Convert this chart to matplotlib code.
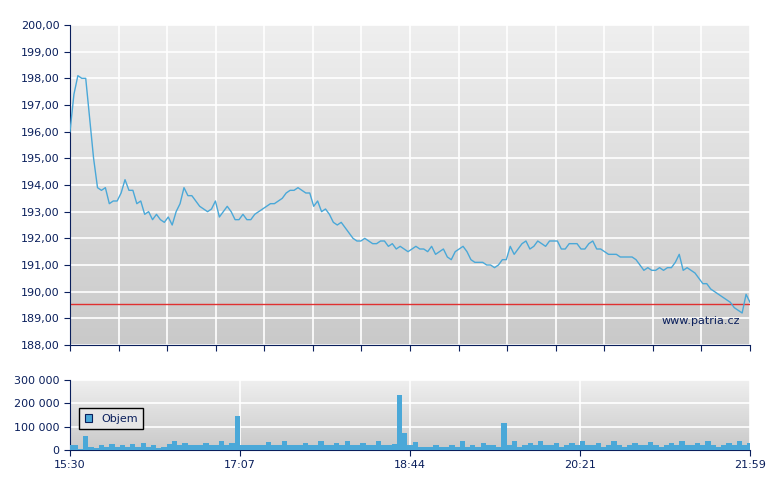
import numpy as np
import matplotlib
matplotlib.use("Agg")
import matplotlib.pyplot as plt
from matplotlib.ticker import FuncFormatter

price = [196.0,197.4,198.1,198.0,198.0,196.5,195.0,193.9,193.8,193.9,
 193.3,193.4,193.4,193.7,194.2,193.8,193.8,193.3,193.4,192.9,193.0,192.7,192.9,192.7,192.6,192.8,192.5,
 193.0,193.3,193.9,193.6,193.6,193.4,193.2,193.1,193.0,193.1,193.4,192.8,193.0,193.2,193.0,192.7,192.7,
 192.9,192.7,192.7,192.9,193.0,193.1,193.2,193.3,193.3,193.4,193.5,193.7,193.8,193.8,193.9,193.8,193.7,
 193.7,193.2,193.4,193.0,193.1,192.9,192.6,192.5,192.6,192.4,192.2,192.0,191.9,191.9,192.0,191.9,191.8,
 191.8,191.9,191.9,191.7,191.8,191.6,191.7,191.6,191.5,191.6,191.7,191.6,191.6,191.5,191.7,191.4,191.5,
 191.6,191.3,191.2,191.5,191.6,191.7,191.5,191.2,191.1,191.1,191.1,191.0,191.0,190.9,191.0,191.2,191.2,
 191.7,191.4,191.6,191.8,191.9,191.6,191.7,191.9,191.8,191.7,191.9,191.9,191.9,191.6,191.6,191.8,191.8,
 191.8,191.6,191.6,191.8,191.9,191.6,191.6,191.5,191.4,191.4,191.4,191.3,191.3,191.3,191.3,191.2,191.0,
 190.8,190.9,190.8,190.8,190.9,190.8,190.9,190.9,191.1,191.4,190.8,190.9,190.8,190.7,190.5,190.3,190.3,
 190.1,190.0,189.9,189.8,189.7,189.6,189.4,189.3,189.2,189.9,189.6]

volume = [20000,20000,5000,60000,15000,10000,20000,15000,25000,15000,20000,12000,25000,15000,30000,15000,
 20000,10000,15000,25000,40000,20000,30000,20000,20000,20000,30000,20000,20000,40000,20000,30000,145000,
 20000,20000,20000,20000,20000,35000,20000,20000,40000,20000,20000,20000,30000,20000,20000,40000,20000,
 20000,30000,20000,40000,20000,20000,30000,20000,20000,40000,20000,20000,25000,235000,75000,20000,35000,
 15000,15000,15000,20000,15000,15000,20000,15000,40000,15000,20000,15000,30000,20000,20000,15000,115000,
 20000,40000,15000,20000,30000,20000,40000,20000,20000,30000,15000,20000,30000,20000,40000,20000,20000,
 30000,15000,20000,40000,20000,15000,20000,30000,20000,20000,35000,20000,15000,20000,30000,20000,40000,
 20000,20000,30000,20000,40000,20000,15000,20000,30000,20000,40000,20000,30000]

ref_price = 189.53
time_labels = ["15:30", "17:07", "18:44", "20:21", "21:59"]
total_min = 389

navy = "#0a1f5c"
blue = "#4aa8d8"

fig = plt.figure(figsize=(7.8, 4.9), dpi=100)
ax = fig.add_axes([70/780, 1-345/490, 680/780, 320/490])
axv = fig.add_axes([70/780, 1-450/490, 680/780, 70/490])

def bg(a):
    grad = np.linspace(0, 1, 256).reshape(-1, 1)
    from matplotlib.colors import LinearSegmentedColormap
    cm = LinearSegmentedColormap.from_list("g", ["#efefef", "#c9c9c9"])
    a.imshow(grad, aspect="auto", cmap=cm, extent=[0, 1, 0, 1], transform=a.transAxes, zorder=0)

tp = np.linspace(0, total_min, len(price))
bg(ax)
ax.set_xlim(0, total_min); ax.set_ylim(188, 200)
ax.set_yticks(np.arange(188, 200.1, 1))
ax.set_xticks(np.linspace(0, total_min, 15))
ax.grid(True, color="white", lw=1.2, zorder=1)
ax.plot(tp, price, color=blue, lw=1.0, zorder=3)
ax.axhline(ref_price, color="#e03030", lw=1, zorder=2)
ax.yaxis.set_major_formatter(FuncFormatter(lambda v, p: f"{v:.2f}".replace(".", ",")))
ax.set_xticklabels([])
ax.text(0.985, 0.06, "www.patria.cz", transform=ax.transAxes, ha="right", va="bottom",
        color=navy, fontsize=8)

tv = np.linspace(0, total_min, len(volume))
bg(axv)
axv.set_xlim(0, total_min); axv.set_ylim(0, 300000)
axv.set_yticks([0, 100000, 200000, 300000])
axv.set_xticks(np.linspace(0, total_min, 5))
axv.set_xticklabels(time_labels)
axv.grid(True, color="white", lw=1.2, zorder=1)
axv.bar(tv, volume, width=total_min/(len(volume)-1)*1.02, color=blue, lw=0, zorder=3, label="Objem")
axv.yaxis.set_major_formatter(FuncFormatter(lambda v, p: f"{int(v):,}".replace(",", " ")))
leg = axv.legend(loc="center left", bbox_to_anchor=(0.005, 0.45), fontsize=8, fancybox=False,
                 handlelength=0.7, handleheight=0.7, borderpad=0.5, framealpha=1)
leg.get_frame().set_edgecolor("black"); leg.get_frame().set_facecolor("#e6e6e6")
for t in leg.get_texts(): t.set_color(navy)
leg.legend_handles[0].set_edgecolor(navy); leg.legend_handles[0].set_linewidth(0.8)

for a in (ax, axv):
    for s in ("top", "right"):
        a.spines[s].set_visible(False)
    a.spines["left"].set_color(navy); a.spines["bottom"].set_color(navy)
    a.tick_params(colors=navy, labelsize=8, length=4, labelcolor=navy)

fig.savefig("out.png", dpi=100)
